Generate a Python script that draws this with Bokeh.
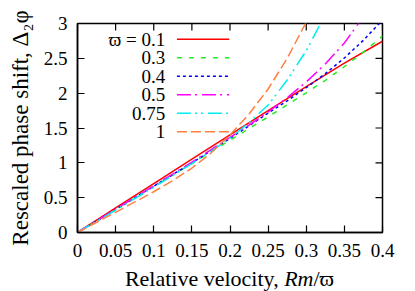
from bokeh.plotting import figure
from bokeh.models import FixedTicker, Range1d, Div
from bokeh.layouts import column
from bokeh.embed import file_html
from bokeh.resources import INLINE
from bokeh.core.properties import value

# ---- data ----
x_ticks = [0, 0.05, 0.1, 0.15, 0.2, 0.25, 0.3, 0.35, 0.4]
x_tick_labels = ["0", "0.05", "0.1", "0.15", "0.2", "0.25", "0.3", "0.35", "0.4"]
y_ticks = [0, 0.5, 1, 1.5, 2, 2.5, 3]
y_tick_labels = ["0", "0.5", "1", "1.5", "2", "2.5", "3"]

series_labels = ["\u03d6 = 0.1", "0.3", "0.4", "0.5", "0.75", "1"]

x_w01 = [0, 0.05, 0.1, 0.15, 0.2, 0.25, 0.3, 0.35, 0.4]
y_w01 = [0, 0.352, 0.703, 1.053, 1.402, 1.749, 2.093, 2.43, 2.745]

x_w03 = [0, 0.05, 0.1, 0.15, 0.2, 0.25, 0.3, 0.325, 0.35, 0.375, 0.4]
y_w03 = [0, 0.33, 0.66, 0.99, 1.325, 1.66, 2.005, 2.185, 2.38, 2.59, 2.82]

x_w04 = [0, 0.05, 0.1, 0.15, 0.2, 0.25, 0.275, 0.3, 0.325, 0.35, 0.375, 0.4]
y_w04 = [0, 0.33, 0.665, 1.0, 1.35, 1.715, 1.89, 2.08, 2.28, 2.505, 2.76, 3.05]

x_w05 = [0, 0.05, 0.1, 0.15, 0.2, 0.225, 0.25, 0.275, 0.3, 0.325, 0.35, 0.375]
y_w05 = [0, 0.335, 0.67, 1.01, 1.365, 1.54, 1.73, 1.935, 2.16, 2.42, 2.72, 3.1]

x_w075 = [0, 0.05, 0.1, 0.15, 0.175, 0.2, 0.225, 0.25, 0.275, 0.3, 0.325]
y_w075 = [0, 0.322, 0.65, 0.99, 1.165, 1.355, 1.575, 1.83, 2.19, 2.61, 3.13]

x_w1 = [0, 0.05, 0.1, 0.125, 0.15, 0.175, 0.2, 0.225, 0.25, 0.275, 0.3]
y_w1 = [0, 0.29, 0.585, 0.745, 0.925, 1.14, 1.40, 1.70, 2.06, 2.50, 3.02]

xs = [x_w01, x_w03, x_w04, x_w05, x_w075, x_w1]
ys = [y_w01, y_w03, y_w04, y_w05, y_w075, y_w1]

x_title_html = "Relative velocity, <i>Rm</i>/\u03d6"
y_title = "Rescaled phase shift, \u0394\u2082\u03c6"

# ---- styles ----
colors = ["#ff0000", "#22ee22", "#0000ff", "#ff00ff", "#00eeee", "#ff8040"]
dashes = ["solid", "5 7", "3 3", "14 4 2 5", "14 4 2 4 2 5", "10 4"]

FONT = "Liberation Serif"
x_lo, x_hi = 0.0, 0.4
y_lo, y_hi = 0.0, 3.0
W, H = 415, 291
FW, FH = 305, 209
BL, BT = 77, 23
PH = 266            # height of the plot canvas; the x title sits below it
TH = H - PH


def fx(f):
    return x_lo + f * (x_hi - x_lo)


def fy(f):
    return y_lo + f * (y_hi - y_lo)


p = figure(width=W, height=PH, frame_width=FW, frame_height=FH,
           x_range=Range1d(x_lo, x_hi), y_range=Range1d(y_lo, y_hi),
           output_backend="svg", toolbar_location=None,
           min_border_left=BL, min_border_right=W - BL - FW,
           min_border_top=BT, min_border_bottom=PH - BT - FH)
p.background_fill_color = "white"
p.border_fill_color = "white"
p.grid.visible = False
p.outline_line_color = "black"
p.outline_line_width = 1.5

for ax in (p.xaxis[0], p.yaxis[0]):
    ax.major_tick_in = 7
    ax.major_tick_out = 0
    ax.minor_tick_line_color = None
    ax.axis_line_width = 1.5
    ax.major_tick_line_width = 1.2
    ax.major_label_text_font = FONT
    ax.major_label_text_font_size = "19px"
    ax.major_label_text_color = "black"
    ax.axis_label_text_font = FONT
    ax.axis_label_text_font_style = "normal"
    ax.axis_label_text_color = "black"

p.xaxis.ticker = FixedTicker(ticks=x_ticks)
p.xaxis.major_label_overrides = {t: l for t, l in zip(x_ticks, x_tick_labels)}
p.yaxis.ticker = FixedTicker(ticks=y_ticks)
p.yaxis.major_label_overrides = {t: l for t, l in zip(y_ticks, y_tick_labels)}
p.yaxis.axis_label = y_title
p.yaxis.axis_label_text_font_size = "23px"
p.xaxis.major_label_standoff = 11
p.yaxis.major_label_standoff = 10
p.yaxis.axis_label_standoff = 8

# mirrored tick marks on top and right edges of the frame
tl_y = 7 / FH * (y_hi - y_lo)
tl_x = 7 / FW * (x_hi - x_lo)
p.segment(x0=x_ticks, y0=[y_hi] * len(x_ticks), x1=x_ticks, y1=[y_hi - tl_y] * len(x_ticks),
          line_color="black", line_width=1.2)
p.segment(x0=[x_hi] * len(y_ticks), y0=y_ticks, x1=[x_hi - tl_x] * len(y_ticks), y1=y_ticks,
          line_color="black", line_width=1.2)

for xv, yv, c, d in zip(xs, ys, colors, dashes):
    p.line(xv, yv, line_color=c, line_width=1.5, line_dash=d)

# ---- legend (text left, sample right), placed by frame fractions ----
n = len(series_labels)
row_y = [fy(0.925 - 0.0885 * i) for i in range(n)]
p.text(x=[fx(0.2875)] * n, y=row_y, text=series_labels, text_align="right",
       text_baseline="middle", text_font=value(FONT), text_font_size="19px",
       text_color="black")
for yr, c, d in zip(row_y, colors, dashes):
    p.line([fx(0.326), fx(0.4975)], [yr, yr], line_color=c, line_width=1.5, line_dash=d)

# ---- x axis title (with italic Rm), centred under the frame ----
title = Div(
    text=('<div style="width:%dpx;text-align:center;font-family:\'Liberation Serif\',serif;'
          'font-size:22px;line-height:%dpx;color:black;white-space:nowrap;">%s</div>'
          % (FW, TH, x_title_html)),
    width=W, height=TH, margin=(0, 0, 0, BL),
)
title.width = FW

layout = column(p, title, spacing=0)
open("out.html", "w").write(file_html(layout, INLINE))
